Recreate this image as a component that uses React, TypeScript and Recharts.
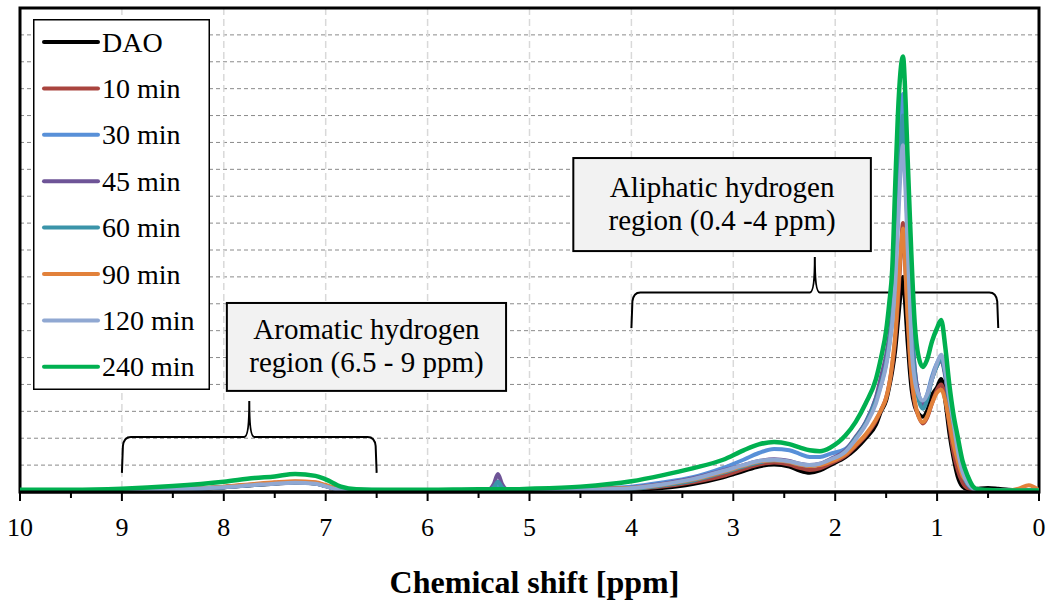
import React from "react";
import { LineChart, Line, XAxis, YAxis, CartesianGrid, ReferenceArea, Legend, Label } from "recharts";

const serif = "'Liberation Serif', 'Times New Roman', serif";

// chemical shift grid (ppm), from high to low field
const ppm = [
  10, 9.5, 9, 8.5, 8,
  7.7, 7.5, 7.3, 7.1, 7.0,
  6.85, 6.7, 6.4, 6, 5.5,
  5.4, 5.35, 5.31, 5.27, 5.22,
  5, 4.5, 4, 3.7, 3.4,
  3.1, 2.9, 2.75, 2.6, 2.45,
  2.35, 2.25, 2.15, 2.05, 1.9,
  1.8, 1.7, 1.6, 1.55, 1.5,
  1.47, 1.44, 1.41, 1.385, 1.36,
  1.335, 1.31, 1.29, 1.27, 1.25,
  1.22, 1.18, 1.14, 1.1, 1.05,
  1.0, 0.96, 0.92, 0.88, 0.84,
  0.8, 0.75, 0.7, 0.65, 0.6,
  0.5, 0.4, 0.3, 0.2, 0.1,
  0,
];

// intensities (one unit per grid line)
const dao = [
  0.06, 0.06, 0.07, 0.09, 0.17,
  0.26, 0.31, 0.35, 0.32, 0.22,
  0.08, 0.06, 0.05, 0.05, 0.05,
  0.05, 0.06, 0.08, 0.06, 0.05,
  0.05, 0.05, 0.08, 0.15, 0.3,
  0.55, 0.78, 0.95, 1.02, 0.95,
  0.8, 0.72, 0.8, 1.0, 1.3,
  1.6, 2.0, 2.5, 3.0, 3.4,
  3.9, 4.5, 5.3, 6.3, 7.3,
  8.0, 6.8, 5.6, 4.6, 3.8,
  3.2, 2.9, 2.8, 3.0, 3.6,
  3.9, 4.2, 3.4, 2.2, 1.3,
  0.6, 0.2, 0.1, 0.1, 0.12,
  0.15, 0.12, 0.08, 0.06, 0.05,
  0.05,
];

const min10 = [
  0.06, 0.06, 0.08, 0.1, 0.19,
  0.28, 0.34, 0.38, 0.34, 0.24,
  0.09, 0.07, 0.06, 0.06, 0.07,
  0.07, 0.08, 0.1, 0.08, 0.07,
  0.07, 0.08, 0.12, 0.2, 0.36,
  0.6, 0.85, 1.02, 1.1, 1.02,
  0.9, 0.82, 0.88, 1.05, 1.35,
  1.7, 2.1, 2.65, 3.05, 3.5,
  4.0, 4.7, 5.7, 7.0, 8.6,
  10.0, 8.2, 6.6, 5.2, 4.2,
  3.3, 2.8, 2.55, 2.75, 3.3,
  3.8, 4.0, 3.5, 2.5, 1.5,
  0.85, 0.35, 0.14, 0.1, 0.08,
  0.07, 0.06, 0.06, 0.06, 0.06,
  0.06,
];

const min30 = [
  0.07, 0.07, 0.08, 0.1, 0.18,
  0.27, 0.33, 0.37, 0.33, 0.23,
  0.09, 0.08, 0.07, 0.07, 0.08,
  0.08, 0.12, 0.2, 0.12, 0.08,
  0.08, 0.12, 0.2, 0.35, 0.55,
  0.9, 1.2, 1.45, 1.6, 1.55,
  1.42, 1.3, 1.3, 1.42, 1.6,
  2.0, 2.6, 3.5, 4.1, 4.8,
  5.5, 6.5, 8.2, 10.8, 13.5,
  14.8, 12.8, 10.5, 8.3, 6.4,
  4.6, 3.6, 3.25, 3.6, 4.3,
  4.8, 5.0, 4.4, 3.4, 2.5,
  1.5, 0.7, 0.3, 0.12, 0.08,
  0.07, 0.06, 0.06, 0.06, 0.06,
  0.06,
];

const min45 = [
  0.07, 0.07, 0.08, 0.1, 0.18,
  0.27, 0.32, 0.36, 0.32, 0.22,
  0.09, 0.07, 0.06, 0.06, 0.07,
  0.1, 0.3, 0.67, 0.3, 0.1,
  0.07, 0.1, 0.16, 0.3, 0.5,
  0.8, 1.0, 1.15, 1.22, 1.15,
  1.05, 1.0, 1.05, 1.22, 1.55,
  2.05, 2.6, 3.5, 4.3, 5.1,
  5.8, 6.8, 8.5, 10.5, 12.4,
  13.5, 11.8, 9.8, 7.9, 6.2,
  4.6, 3.6, 3.2, 3.5, 4.2,
  4.7, 4.9, 4.3, 3.3, 2.4,
  1.45, 0.7, 0.3, 0.12, 0.08,
  0.07, 0.06, 0.06, 0.06, 0.06,
  0.06,
];

const min60 = [
  0.07, 0.07, 0.08, 0.1, 0.18,
  0.27, 0.32, 0.36, 0.32, 0.22,
  0.09, 0.07, 0.06, 0.06, 0.06,
  0.08, 0.18, 0.38, 0.18, 0.08,
  0.06, 0.08, 0.12, 0.24, 0.42,
  0.72, 0.95, 1.1, 1.18, 1.12,
  1.02, 0.97, 1.02, 1.18, 1.5,
  2.0, 2.55, 3.4, 4.0, 4.8,
  5.5, 6.5, 8.3, 10.5, 12.6,
  14.0, 12.2, 10.0, 8.0, 6.0,
  4.4, 3.4, 3.1, 3.4, 4.2,
  4.7, 5.0, 4.4, 3.4, 2.5,
  1.5, 0.7, 0.3, 0.12, 0.08,
  0.07, 0.06, 0.06, 0.06, 0.06,
  0.06,
];

const min90 = [
  0.06, 0.06, 0.08, 0.11, 0.2,
  0.3, 0.36, 0.4, 0.36, 0.26,
  0.1, 0.08, 0.06, 0.06, 0.07,
  0.07, 0.08, 0.1, 0.08, 0.07,
  0.07, 0.1, 0.15, 0.27, 0.46,
  0.75, 0.98, 1.13, 1.18, 1.12,
  1.02, 0.97, 1.0, 1.12, 1.4,
  1.75, 2.15, 2.7, 3.05, 3.5,
  4.0, 4.8, 5.9, 7.3, 8.8,
  9.8, 8.2, 6.6, 5.3, 4.3,
  3.4, 2.8, 2.6, 2.8, 3.3,
  3.7, 3.8, 3.4, 2.6, 1.8,
  1.2, 0.6, 0.4, 0.15, 0.05,
  0.03, 0.04, 0.05, 0.12, 0.25,
  0.06,
];

const min120 = [
  0.07, 0.07, 0.08, 0.1, 0.18,
  0.26, 0.31, 0.34, 0.31, 0.21,
  0.08, 0.07, 0.05, 0.05, 0.05,
  0.05, 0.05, 0.06, 0.05, 0.05,
  0.05, 0.08, 0.14, 0.28, 0.48,
  0.78, 1.0, 1.15, 1.2, 1.14,
  1.05, 1.0, 1.05, 1.2, 1.5,
  1.95, 2.5, 3.3, 3.95, 4.7,
  5.4, 6.3, 7.8, 9.8, 11.8,
  12.9, 11.2, 9.2, 7.3, 5.4,
  4.2, 3.6, 3.4, 3.6, 4.2,
  4.8, 5.1, 4.5, 3.5, 2.6,
  1.6, 0.75, 0.33, 0.14, 0.07,
  0.06, 0.05, 0.05, 0.05, 0.06,
  0.06,
];

const min240 = [
  0.08, 0.08, 0.12, 0.22, 0.38,
  0.52, 0.58, 0.67, 0.6, 0.47,
  0.2, 0.1, 0.08, 0.08, 0.1,
  0.1, 0.1, 0.11, 0.1, 0.1,
  0.12, 0.2, 0.4, 0.62, 0.88,
  1.2, 1.55, 1.77, 1.86, 1.78,
  1.66, 1.55, 1.52, 1.65, 2.1,
  2.6, 3.3, 4.2, 5.0, 6.0,
  7.0, 8.3, 11.5, 14.0, 15.6,
  16.2, 14.6, 12.5, 10.5, 8.6,
  6.3, 5.0, 4.65, 4.9, 5.6,
  6.1, 6.4, 5.4, 4.0, 2.9,
  2.1, 1.15, 0.6, 0.22, 0.1,
  0.07, 0.06, 0.06, 0.06, 0.06,
  0.06,
];

const seriesNames = ["DAO", "10 min", "30 min", "45 min", "60 min", "90 min", "120 min", "240 min"];
const seriesColors = ["#000000", "#a9443e", "#5890d8", "#6e5497", "#3b94a9", "#e2813a", "#90a8d2", "#00b050"];
const seriesValues = [dao, min10, min30, min45, min60, min90, min120, min240];

const majorTicks = [0, 1, 2, 3, 4, 5, 6, 7, 8, 9, 10];
const allTicks = [0, 0.5, 1, 1.5, 2, 2.5, 3, 3.5, 4, 4.5, 5, 5.5, 6, 6.5, 7, 7.5, 8, 8.5, 9, 9.5, 10];
const gridLevels = [0, 1, 2, 3, 4, 5, 6, 7, 8, 9, 10, 11, 12, 13, 14, 15, 16, 17, 18];

const aromaticRange = [9, 6.5];
const aliphaticRange = [4, 0.4];

const data = ppm.map((x, i) => {
  const row: Record<string, number> = { ppm: x };
  seriesValues.forEach((vals, k) => {
    row[`s${k}`] = vals[i];
  });
  return row;
});

// curly bracket spanning a shift range, cusp pointing up
function Brace(props: any) {
  const { x, y, width, height } = props;
  const mid = y + height / 2;
  const cx = x + width / 2;
  const right = x + width;
  const bottom = y + height;
  const d =
    `M${x},${bottom} L${x + 1},${mid + 9} Q${x + 2},${mid} ${x + 9},${mid} ` +
    `L${cx - 5},${mid} Q${cx},${mid} ${cx},${y} Q${cx},${mid} ${cx + 5},${mid} ` +
    `L${right - 9},${mid} Q${right - 2},${mid} ${right - 1},${mid + 9} L${right},${bottom}`;
  return <path d={d} fill="none" stroke="#000" strokeWidth={2} />;
}

function NoteBox(props: any) {
  const { x, y, width, height, lines } = props;
  const cx = x + width / 2;
  const cy = y + height / 2;
  return (
    <g>
      <rect x={x} y={y} width={width} height={height} fill="#f2f2f2" stroke="#000" strokeWidth={2} />
      <text textAnchor="middle" fontSize={29} fontFamily={serif} fill="#000">
        <tspan x={cx} y={cy - 8}>{lines[0]}</tspan>
        <tspan x={cx} y={cy + 25}>{lines[1]}</tspan>
      </text>
    </g>
  );
}

function Frame(props: any) {
  const { x, y, width, height } = props;
  return <rect x={x} y={y} width={width} height={height} fill="none" stroke="#000" strokeWidth={3} />;
}

// long tick + label on whole ppm, short tick on the half steps
function ShiftTick(props: any) {
  const { x, y, payload } = props;
  const v = payload.value;
  const major = Number.isInteger(v);
  return (
    <g>
      <line x1={x} x2={x} y1={y} y2={y + (major ? 9 : 6)} stroke="#000" strokeWidth={2} />
      {major && (
        <text x={x} y={y + 26} dy="0.71em" textAnchor="middle" fontSize={26} fontFamily={serif} fill="#000">
          {v}
        </text>
      )}
    </g>
  );
}

// intensity axis carries no labels
const NoTick = () => <g />;

const hLine = (p: any) => (
  <line key={p.key} x1={p.x1} x2={p.x2} y1={p.y1} y2={p.y2} stroke="#8a8a8a" strokeWidth={1} strokeDasharray="4 3" />
);
const vLine = (p: any) => (
  <line key={p.key} x1={p.x1} x2={p.x2} y1={p.y1} y2={p.y2} stroke="#d9d9d9" strokeWidth={1.5} strokeDasharray="7 4" />
);

function LegendBox() {
  return (
    <svg width={177} height={371} style={{ display: "block" }}>
      <rect x={0.75} y={0.75} width={175.5} height={369.5} fill="#fff" stroke="#000" strokeWidth={1.5} />
      {seriesNames.map((name, i) => {
        const cy = 23 + i * 46.4;
        return (
          <g key={name}>
            <line x1={11} x2={65} y1={cy} y2={cy} stroke={seriesColors[i]} strokeWidth={4} strokeLinecap="round" />
            <text x={69} y={cy + 9.5} fontSize={28} fontFamily={serif} fill="#000">
              {name}
            </text>
          </g>
        );
      })}
    </svg>
  );
}

function AxisTitle(props: any) {
  const vb = props.viewBox;
  return (
    <text
      x={vb.x + vb.width / 2 + 5}
      y={vb.y + vb.height - 9}
      textAnchor="middle"
      fontSize={32}
      fontWeight="bold"
      fontFamily={serif}
      fill="#000"
    >
      Chemical shift [ppm]
    </text>
  );
}

export default function App() {
  return (
    <div style={{ position: "absolute", left: 0, top: 0, width: 1046, height: 602, background: "#fff" }}>
      <LineChart width={1046} height={602} data={data} margin={{ top: 8, right: 7, left: 20, bottom: 0 }}>
        <CartesianGrid
          horizontal={hLine}
          vertical={vLine}
          horizontalValues={gridLevels}
          verticalValues={majorTicks}
        />
        <XAxis
          dataKey="ppm"
          type="number"
          domain={[0, 10]}
          reversed
          allowDataOverflow
          ticks={allTicks}
          interval={0}
          tickSize={0}
          tickMargin={0}
          tickLine={false}
          axisLine={{ stroke: "#000", strokeWidth: 3 }}
          tick={<ShiftTick />}
          height={110}
        >
          <Label content={AxisTitle} />
        </XAxis>
        <YAxis
          type="number"
          domain={[0, 18]}
          ticks={gridLevels}
          interval={0}
          allowDataOverflow
          width={0}
          tick={<NoTick />}
          tickLine={false}
          axisLine={false}
        />
        <Legend
          layout="vertical"
          align="center"
          verticalAlign="middle"
          wrapperStyle={{ left: 33, top: 19, width: 177, height: 371 }}
          content={() => <LegendBox />}
        />
        {seriesNames.map((name, k) => (
          <Line
            key={name}
            type="monotone"
            dataKey={`s${k}`}
            name={name}
            stroke={seriesColors[k]}
            strokeWidth={k === 7 ? 4.5 : 4}
            strokeLinejoin="round"
            dot={false}
            activeDot={false}
            isAnimationActive={false}
          />
        ))}
        <ReferenceArea x1={aromaticRange[0]} x2={aromaticRange[1]} y1={0.71} y2={3.38} shape={Brace} />
        <ReferenceArea x1={aliphaticRange[0]} x2={aliphaticRange[1]} y1={6.1} y2={8.74} shape={Brace} />
        <ReferenceArea
          x1={7.97}
          x2={5.23}
          y1={3.76}
          y2={7.03}
          shape={(p: any) => <NoteBox {...p} lines={["Aromatic hydrogen", "region (6.5 - 9 ppm)"]} />}
        />
        <ReferenceArea
          x1={4.57}
          x2={1.65}
          y1={8.96}
          y2={12.42}
          shape={(p: any) => <NoteBox {...p} lines={["Aliphatic hydrogen", "region (0.4 -4 ppm)"]} />}
        />
        <ReferenceArea x1={10} x2={0} y1={0} y2={18} shape={Frame} />
      </LineChart>
    </div>
  );
}
